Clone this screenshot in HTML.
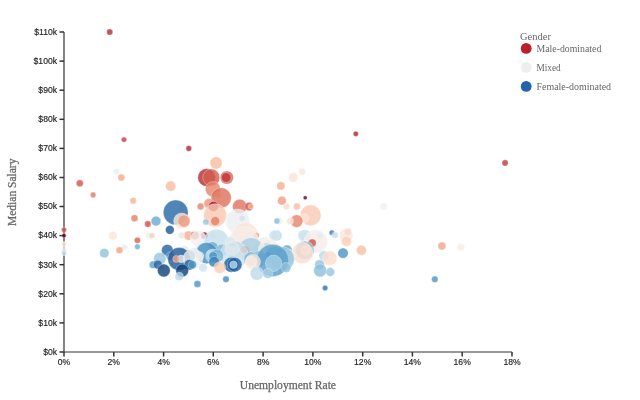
<!DOCTYPE html>
<html><head><meta charset="utf-8"><title>Median Salary vs Unemployment Rate</title>
<style>
html,body{margin:0;padding:0;background:#fff;}
body{width:640px;height:400px;overflow:hidden;}
svg{display:block}
.tick text{font-family:"Liberation Sans",sans-serif;font-size:8.6px;fill:#222;stroke:#222;stroke-width:0.15;}
.axis path{stroke:#333;stroke-width:1.2;fill:none}
.axis line{stroke:#333;stroke-width:1.5;fill:none;shape-rendering:auto}
.lab{font-family:"Liberation Serif",serif;fill:#666;}
.ax{stroke:#666;stroke-width:0.25;}
.dots circle{stroke:#fff;stroke-opacity:0.5;stroke-width:0.6}
</style></head><body>
<svg width="640" height="400" viewBox="0 0 640 400">
<rect width="640" height="400" fill="#fff"/>
<g class="axis">
<path d="M64,32V352H512"/>
<line x1="59.5" x2="64" y1="352.0" y2="352.0"/>
<line x1="59.5" x2="64" y1="322.9" y2="322.9"/>
<line x1="59.5" x2="64" y1="293.8" y2="293.8"/>
<line x1="59.5" x2="64" y1="264.7" y2="264.7"/>
<line x1="59.5" x2="64" y1="235.6" y2="235.6"/>
<line x1="59.5" x2="64" y1="206.5" y2="206.5"/>
<line x1="59.5" x2="64" y1="177.5" y2="177.5"/>
<line x1="59.5" x2="64" y1="148.4" y2="148.4"/>
<line x1="59.5" x2="64" y1="119.3" y2="119.3"/>
<line x1="59.5" x2="64" y1="90.2" y2="90.2"/>
<line x1="59.5" x2="64" y1="61.1" y2="61.1"/>
<line x1="59.5" x2="64" y1="32.0" y2="32.0"/>
<line y1="352" y2="356.5" x1="64.0" x2="64.0"/>
<line y1="352" y2="356.5" x1="113.8" x2="113.8"/>
<line y1="352" y2="356.5" x1="163.6" x2="163.6"/>
<line y1="352" y2="356.5" x1="213.3" x2="213.3"/>
<line y1="352" y2="356.5" x1="263.1" x2="263.1"/>
<line y1="352" y2="356.5" x1="312.9" x2="312.9"/>
<line y1="352" y2="356.5" x1="362.7" x2="362.7"/>
<line y1="352" y2="356.5" x1="412.4" x2="412.4"/>
<line y1="352" y2="356.5" x1="462.2" x2="462.2"/>
<line y1="352" y2="356.5" x1="512.0" x2="512.0"/>
</g>
<g class="dots" fill-opacity="0.8">
<circle cx="109.7" cy="32.0" r="3.1" fill="rgb(182,43,52)"/>
<circle cx="355.8" cy="133.8" r="2.6" fill="rgb(173,33,47)"/>
<circle cx="124.0" cy="139.6" r="2.7" fill="rgb(196,63,62)"/>
<circle cx="188.8" cy="148.4" r="2.8" fill="rgb(175,36,48)"/>
<circle cx="216.1" cy="162.9" r="6.1" fill="rgb(247,187,159)"/>
<circle cx="505.1" cy="162.9" r="3.1" fill="rgb(193,58,59)"/>
<circle cx="302.1" cy="171.6" r="3.4" fill="rgb(250,229,218)"/>
<circle cx="116.7" cy="171.6" r="3.0" fill="rgb(232,238,242)"/>
<circle cx="206.7" cy="177.5" r="8.9" fill="rgb(182,42,52)"/>
<circle cx="211.3" cy="177.5" r="8.5" fill="rgb(212,93,79)"/>
<circle cx="226.8" cy="177.5" r="6.6" fill="rgb(213,95,80)"/>
<circle cx="226.2" cy="177.5" r="4.8" fill="rgb(191,54,58)"/>
<circle cx="293.2" cy="177.5" r="4.8" fill="rgb(250,228,216)"/>
<circle cx="121.3" cy="177.5" r="3.5" fill="rgb(242,169,139)"/>
<circle cx="79.8" cy="183.3" r="3.5" fill="rgb(208,84,73)"/>
<circle cx="280.9" cy="185.9" r="4.1" fill="rgb(244,175,146)"/>
<circle cx="170.7" cy="186.2" r="5.1" fill="rgb(247,188,160)"/>
<circle cx="212.9" cy="189.1" r="7.6" fill="rgb(229,132,106)"/>
<circle cx="218.1" cy="194.9" r="3.2" fill="rgb(248,191,165)"/>
<circle cx="93.1" cy="194.9" r="2.8" fill="rgb(224,121,97)"/>
<circle cx="221.2" cy="197.8" r="10.1" fill="rgb(220,111,91)"/>
<circle cx="305.2" cy="197.8" r="2.0" fill="rgb(103,0,31)"/>
<circle cx="281.9" cy="200.7" r="4.4" fill="rgb(239,158,128)"/>
<circle cx="133.2" cy="200.7" r="3.2" fill="rgb(245,177,148)"/>
<circle cx="209.0" cy="203.6" r="5.1" fill="rgb(236,149,120)"/>
<circle cx="239.7" cy="206.5" r="7.2" fill="rgb(222,114,93)"/>
<circle cx="213.4" cy="206.5" r="5.1" fill="rgb(166,28,45)"/>
<circle cx="183.1" cy="206.5" r="4.5" fill="rgb(245,177,148)" fill-opacity="0.25"/>
<circle cx="200.6" cy="206.5" r="3.4" fill="rgb(229,131,105)"/>
<circle cx="249.1" cy="206.5" r="4.2" fill="rgb(210,88,76)"/>
<circle cx="383.6" cy="206.5" r="3.8" fill="rgb(239,240,240)"/>
<circle cx="296.9" cy="206.5" r="3.4" fill="rgb(247,187,159)"/>
<circle cx="286.5" cy="206.5" r="3.3" fill="rgb(251,219,201)"/>
<circle cx="250.8" cy="206.5" r="2.6" fill="rgb(244,176,147)"/>
<circle cx="175.7" cy="212.4" r="12.4" fill="rgb(35,102,165)"/>
<circle cx="215.1" cy="215.3" r="11.5" fill="rgb(249,200,176)"/>
<circle cx="310.6" cy="215.3" r="10.5" fill="rgb(249,201,177)"/>
<circle cx="304.1" cy="218.2" r="4.6" fill="rgb(250,226,212)"/>
<circle cx="134.5" cy="218.2" r="3.5" fill="rgb(228,129,104)"/>
<circle cx="242.1" cy="218.2" r="3.0" fill="rgb(107,171,208)"/>
<circle cx="237.6" cy="221.1" r="12.1" fill="rgb(235,239,241)"/>
<circle cx="181.7" cy="221.1" r="8.1" fill="rgb(249,231,221)"/>
<circle cx="296.6" cy="221.1" r="6.3" fill="rgb(229,133,106)"/>
<circle cx="184.0" cy="221.1" r="6.1" fill="rgb(237,151,122)"/>
<circle cx="156.0" cy="221.1" r="4.9" fill="rgb(104,170,207)"/>
<circle cx="215.2" cy="221.1" r="4.5" fill="rgb(227,126,101)"/>
<circle cx="278.7" cy="221.1" r="3.8" fill="rgb(235,239,241)"/>
<circle cx="290.0" cy="221.1" r="3.6" fill="rgb(250,227,214)"/>
<circle cx="276.9" cy="221.1" r="3.0" fill="rgb(138,191,219)"/>
<circle cx="205.9" cy="222.0" r="3.1" fill="rgb(151,198,223)"/>
<circle cx="147.8" cy="224.0" r="3.2" fill="rgb(204,77,70)"/>
<circle cx="169.8" cy="229.8" r="4.4" fill="rgb(26,86,148)"/>
<circle cx="64.0" cy="229.8" r="2.6" fill="rgb(206,81,71)"/>
<circle cx="347.7" cy="231.9" r="3.5" fill="rgb(240,162,133)"/>
<circle cx="251.3" cy="232.7" r="3.4" fill="rgb(221,234,242)"/>
<circle cx="331.8" cy="232.7" r="2.6" fill="rgb(49,122,181)"/>
<circle cx="335.0" cy="235.1" r="3.2" fill="rgb(194,221,235)"/>
<circle cx="304.9" cy="235.3" r="5.8" fill="rgb(187,218,233)"/>
<circle cx="245.3" cy="235.6" r="13.0" fill="rgb(250,228,215)"/>
<circle cx="346.1" cy="235.6" r="6.9" fill="rgb(249,232,222)"/>
<circle cx="303.4" cy="235.6" r="5.7" fill="rgb(210,229,239)"/>
<circle cx="276.5" cy="235.6" r="5.5" fill="rgb(188,218,234)"/>
<circle cx="274.0" cy="235.6" r="5.1" fill="rgb(208,228,239)"/>
<circle cx="195.1" cy="235.6" r="5.0" fill="rgb(250,225,210)"/>
<circle cx="188.5" cy="235.6" r="4.7" fill="rgb(244,176,146)"/>
<circle cx="112.9" cy="235.6" r="4.3" fill="rgb(250,229,217)"/>
<circle cx="194.8" cy="235.6" r="4.1" fill="rgb(213,96,80)"/>
<circle cx="204.3" cy="235.6" r="3.6" fill="rgb(158,22,42)"/>
<circle cx="148.9" cy="235.6" r="3.4" fill="rgb(238,240,240)"/>
<circle cx="212.8" cy="235.6" r="3.3" fill="rgb(229,238,242)"/>
<circle cx="181.4" cy="235.6" r="3.3" fill="rgb(250,226,212)"/>
<circle cx="319.6" cy="235.6" r="3.2" fill="rgb(181,214,232)"/>
<circle cx="256.3" cy="235.6" r="3.1" fill="rgb(237,152,122)"/>
<circle cx="152.0" cy="235.6" r="2.9" fill="rgb(250,205,182)"/>
<circle cx="64.0" cy="235.6" r="2.2" fill="rgb(103,0,31)"/>
<circle cx="198.3" cy="238.5" r="7.9" fill="rgb(241,240,239)"/>
<circle cx="137.4" cy="240.3" r="3.1" fill="rgb(213,96,80)"/>
<circle cx="243.7" cy="241.5" r="15.0" fill="rgb(246,236,230)"/>
<circle cx="216.4" cy="241.5" r="12.3" fill="rgb(197,223,236)"/>
<circle cx="315.8" cy="241.5" r="11.7" fill="rgb(244,238,234)"/>
<circle cx="346.4" cy="241.5" r="5.1" fill="rgb(250,207,185)"/>
<circle cx="230.2" cy="241.5" r="4.8" fill="rgb(214,231,240)"/>
<circle cx="312.2" cy="242.9" r="4.0" fill="rgb(207,82,72)"/>
<circle cx="264.4" cy="243.2" r="6.5" fill="rgb(238,240,240)"/>
<circle cx="64.0" cy="244.4" r="2.8" fill="rgb(249,232,221)"/>
<circle cx="441.9" cy="246.1" r="4.0" fill="rgb(241,166,136)"/>
<circle cx="251.8" cy="246.7" r="4.4" fill="rgb(247,236,229)"/>
<circle cx="137.4" cy="246.7" r="2.8" fill="rgb(107,172,208)"/>
<circle cx="124.7" cy="247.3" r="3.0" fill="rgb(227,237,242)"/>
<circle cx="212.3" cy="247.3" r="5.6" fill="rgb(109,173,209)"/>
<circle cx="266.6" cy="247.3" r="4.6" fill="rgb(40,110,172)"/>
<circle cx="461.0" cy="247.3" r="3.7" fill="rgb(247,236,229)"/>
<circle cx="259.6" cy="248.4" r="5.7" fill="rgb(212,230,240)"/>
<circle cx="244.7" cy="250.2" r="4.8" fill="rgb(182,42,52)"/>
<circle cx="304.8" cy="250.2" r="3.4" fill="rgb(184,45,53)"/>
<circle cx="235.0" cy="250.2" r="5.1" fill="rgb(46,118,178)"/>
<circle cx="251.1" cy="250.2" r="12.5" fill="rgb(164,206,227)"/>
<circle cx="269.2" cy="250.2" r="10.9" fill="rgb(246,237,231)"/>
<circle cx="287.1" cy="250.2" r="5.1" fill="rgb(97,165,205)"/>
<circle cx="304.9" cy="250.2" r="9.3" fill="rgb(150,198,223)"/>
<circle cx="236.2" cy="250.2" r="8.1" fill="rgb(162,204,226)"/>
<circle cx="202.9" cy="250.2" r="7.7" fill="rgb(221,234,242)"/>
<circle cx="233.1" cy="250.2" r="7.2" fill="rgb(101,168,206)"/>
<circle cx="221.9" cy="250.2" r="6.0" fill="rgb(129,186,216)"/>
<circle cx="167.3" cy="250.2" r="5.8" fill="rgb(32,97,160)"/>
<circle cx="236.1" cy="250.2" r="5.4" fill="rgb(195,222,236)"/>
<circle cx="306.0" cy="250.2" r="5.2" fill="rgb(243,239,237)"/>
<circle cx="64.0" cy="250.2" r="2.6" fill="rgb(248,234,226)"/>
<circle cx="119.5" cy="250.2" r="3.4" fill="rgb(240,162,133)"/>
<circle cx="230.0" cy="250.2" r="4.7" fill="rgb(223,235,242)"/>
<circle cx="184.5" cy="250.2" r="4.7" fill="rgb(223,235,242)"/>
<circle cx="361.4" cy="250.2" r="5.0" fill="rgb(248,191,164)"/>
<circle cx="198.6" cy="253.1" r="5.2" fill="rgb(240,240,239)"/>
<circle cx="272.1" cy="253.1" r="5.6" fill="rgb(175,212,230)"/>
<circle cx="279.9" cy="253.1" r="4.9" fill="rgb(119,179,212)"/>
<circle cx="64.0" cy="253.1" r="2.6" fill="rgb(194,221,235)"/>
<circle cx="104.3" cy="253.1" r="4.7" fill="rgb(143,194,220)"/>
<circle cx="206.6" cy="253.1" r="10.6" fill="rgb(68,142,193)"/>
<circle cx="302.4" cy="253.1" r="10.6" fill="rgb(250,222,207)"/>
<circle cx="194.2" cy="253.1" r="5.0" fill="rgb(205,227,238)"/>
<circle cx="343.0" cy="253.1" r="5.2" fill="rgb(74,148,196)"/>
<circle cx="238.0" cy="254.5" r="4.6" fill="rgb(205,227,238)"/>
<circle cx="210.8" cy="254.5" r="4.3" fill="rgb(214,231,240)"/>
<circle cx="234.0" cy="254.8" r="14.0" fill="rgb(204,226,238)"/>
<circle cx="323.8" cy="255.7" r="4.9" fill="rgb(189,219,234)"/>
<circle cx="274.6" cy="256.0" r="9.7" fill="rgb(130,186,216)"/>
<circle cx="287.5" cy="256.0" r="7.2" fill="rgb(233,239,242)"/>
<circle cx="212.6" cy="256.0" r="7.0" fill="rgb(183,216,232)"/>
<circle cx="216.8" cy="256.0" r="6.7" fill="rgb(119,180,213)"/>
<circle cx="189.2" cy="256.0" r="6.0" fill="rgb(75,148,196)"/>
<circle cx="199.9" cy="256.0" r="4.2" fill="rgb(205,227,238)"/>
<circle cx="213.1" cy="256.0" r="4.3" fill="rgb(74,148,196)"/>
<circle cx="170.3" cy="256.0" r="4.3" fill="rgb(87,157,201)"/>
<circle cx="269.3" cy="257.7" r="6.2" fill="rgb(90,160,202)"/>
<circle cx="329.8" cy="258.3" r="7.3" fill="rgb(251,221,205)"/>
<circle cx="159.8" cy="258.6" r="6.2" fill="rgb(150,198,223)"/>
<circle cx="282.3" cy="258.9" r="12.0" fill="rgb(143,194,220)"/>
<circle cx="179.2" cy="258.9" r="11.4" fill="rgb(27,89,150)"/>
<circle cx="192.9" cy="258.9" r="10.0" fill="rgb(241,239,238)"/>
<circle cx="258.9" cy="258.9" r="8.1" fill="rgb(142,194,220)"/>
<circle cx="250.9" cy="258.9" r="7.0" fill="rgb(123,182,214)"/>
<circle cx="181.0" cy="258.9" r="3.8" fill="rgb(227,237,242)"/>
<circle cx="176.2" cy="258.9" r="3.5" fill="rgb(240,162,133)"/>
<circle cx="272.6" cy="260.4" r="16.2" fill="rgb(87,157,201)"/>
<circle cx="252.9" cy="261.8" r="7.6" fill="rgb(250,226,212)"/>
<circle cx="251.2" cy="261.8" r="5.8" fill="rgb(248,234,226)"/>
<circle cx="214.1" cy="261.8" r="5.3" fill="rgb(53,127,184)"/>
<circle cx="273.6" cy="263.3" r="8.2" fill="rgb(166,207,227)"/>
<circle cx="231.3" cy="264.7" r="7.5" fill="rgb(31,95,158)"/>
<circle cx="234.7" cy="264.7" r="7.3" fill="rgb(33,98,161)"/>
<circle cx="189.4" cy="264.7" r="5.3" fill="rgb(31,95,158)"/>
<circle cx="319.6" cy="264.7" r="4.9" fill="rgb(146,196,221)"/>
<circle cx="192.4" cy="264.7" r="4.2" fill="rgb(78,150,197)"/>
<circle cx="233.5" cy="264.7" r="3.8" fill="rgb(188,218,234)"/>
<circle cx="153.1" cy="264.7" r="3.8" fill="rgb(87,157,201)"/>
<circle cx="157.8" cy="264.7" r="4.4" fill="rgb(32,98,161)"/>
<circle cx="219.8" cy="267.6" r="5.9" fill="rgb(250,206,183)"/>
<circle cx="286.0" cy="267.6" r="5.0" fill="rgb(143,194,220)"/>
<circle cx="203.1" cy="267.6" r="4.3" fill="rgb(205,227,238)"/>
<circle cx="162.1" cy="267.6" r="2.9" fill="rgb(208,228,239)"/>
<circle cx="320.1" cy="270.5" r="6.5" fill="rgb(138,191,219)"/>
<circle cx="182.2" cy="270.5" r="6.4" fill="rgb(14,65,121)"/>
<circle cx="163.8" cy="270.5" r="6.4" fill="rgb(14,65,120)"/>
<circle cx="330.3" cy="272.0" r="4.4" fill="rgb(150,198,223)"/>
<circle cx="256.9" cy="273.5" r="6.7" fill="rgb(189,219,234)"/>
<circle cx="267.8" cy="273.5" r="5.1" fill="rgb(166,207,228)"/>
<circle cx="179.2" cy="276.4" r="4.1" fill="rgb(184,216,233)"/>
<circle cx="226.0" cy="279.3" r="3.2" fill="rgb(65,140,191)"/>
<circle cx="434.8" cy="279.3" r="3.2" fill="rgb(75,148,196)"/>
<circle cx="197.4" cy="283.9" r="3.5" fill="rgb(76,149,196)"/>
<circle cx="325.1" cy="288.0" r="2.7" fill="rgb(41,111,173)"/>
<circle cx="244.0" cy="249.5" r="4.2" fill="rgb(240,162,133)" fill-opacity="0.22" stroke="none"/>
<circle cx="232.0" cy="248.8" r="6.8" fill="rgb(247,236,229)" fill-opacity="0.35" stroke="none"/>
</g>
<g class="tick">
<text x="57" y="354.8" text-anchor="end">$0k</text>
<text x="57" y="325.7" text-anchor="end">$10k</text>
<text x="57" y="296.6" text-anchor="end">$20k</text>
<text x="57" y="267.5" text-anchor="end">$30k</text>
<text x="57" y="238.4" text-anchor="end">$40k</text>
<text x="57" y="209.3" text-anchor="end">$50k</text>
<text x="57" y="180.3" text-anchor="end">$60k</text>
<text x="57" y="151.2" text-anchor="end">$70k</text>
<text x="57" y="122.1" text-anchor="end">$80k</text>
<text x="57" y="93.0" text-anchor="end">$90k</text>
<text x="57" y="63.9" text-anchor="end">$100k</text>
<text x="57" y="34.8" text-anchor="end">$110k</text>
<text x="64.0" y="365.4" text-anchor="middle">0%</text>
<text x="113.8" y="365.4" text-anchor="middle">2%</text>
<text x="163.6" y="365.4" text-anchor="middle">4%</text>
<text x="213.3" y="365.4" text-anchor="middle">6%</text>
<text x="263.1" y="365.4" text-anchor="middle">8%</text>
<text x="312.9" y="365.4" text-anchor="middle">10%</text>
<text x="362.7" y="365.4" text-anchor="middle">12%</text>
<text x="412.4" y="365.4" text-anchor="middle">14%</text>
<text x="462.2" y="365.4" text-anchor="middle">16%</text>
<text x="512.0" y="365.4" text-anchor="middle">18%</text>
</g>
<text class="lab ax" x="239.8" y="388.5" font-size="11.5" textLength="96.2" lengthAdjust="spacingAndGlyphs">Unemployment Rate</text>
<text transform="translate(16.2,192.3) rotate(-90)" text-anchor="middle" font-size="11.5" class="lab ax">Median Salary</text>
<g class="legend">
<text class="lab" x="520" y="40" font-size="10.5">Gender</text>
<circle cx="526.2" cy="48.4" r="5.4" fill="#bd1e2c"/>
<text class="lab" x="536.5" y="51.8" font-size="10" textLength="64.8" lengthAdjust="spacingAndGlyphs">Male-dominated</text>
<circle cx="526.2" cy="67.4" r="5.4" fill="#efeded"/>
<text class="lab" x="536.5" y="70.8" font-size="10" textLength="24.2" lengthAdjust="spacingAndGlyphs">Mixed</text>
<circle cx="526.2" cy="86.4" r="5.4" fill="#2166ac"/>
<text class="lab" x="536.5" y="89.8" font-size="10" textLength="74.6" lengthAdjust="spacingAndGlyphs">Female-dominated</text>
</g>
</svg>
</body></html>
